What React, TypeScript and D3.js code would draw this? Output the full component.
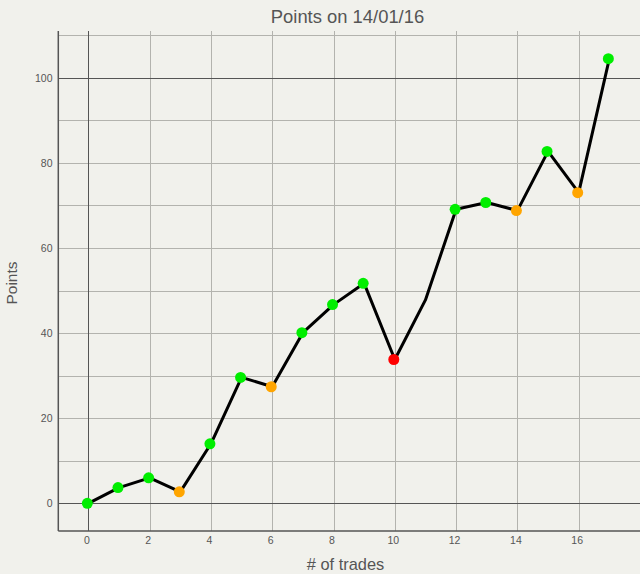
import React from "react";
import * as d3 from "d3";

const trades = [0, 1, 2, 3, 4, 5, 6, 7, 8, 9, 10, 11, 12, 13, 14, 15, 16, 17];
const points = [0, 3.7, 6.0, 2.7, 14.0, 29.6, 27.4, 40.1, 46.7, 51.7, 33.8, 47.8, 69.1, 70.7, 68.8, 82.7, 73.0, 104.5];
const markerKind = ["win", "win", "win", "flat", "win", "win", "flat", "win", "win", "win", "loss", "none", "win", "win", "flat", "win", "flat", "win"];
const kindColor: Record<string, string> = { win: "#00ee00", flat: "#ffa500", loss: "#ff0000" };
const xTicks = [0, 2, 4, 6, 8, 10, 12, 14, 16];
const yTicks = [0, 20, 40, 60, 80, 100];
const yGrid = [0, 10, 20, 30, 40, 50, 60, 70, 80, 90, 100, 110];
const xGrid = [0, 2, 4, 6, 8, 10, 12, 14, 16];
const title = "Points on 14/01/16";
const xTitle = "# of trades";
const yTitle = "Points";

const W = 640;
const H = 574;
const left = 58.3;
const right = 640;
const top = 31;
const bottom = 531;
const FONT = "'Liberation Sans', Arial, sans-serif";
const TXT = "#555";

export default function App() {
  const x = d3.scaleLinear().domain([-0.98, 18]).range([left, right]);
  const y = d3.scaleLinear().domain([-6.5, 111]).range([bottom, top]);
  const line = d3
    .line<number>()
    .x((_, i) => x(trades[i]))
    .y((d) => y(d));
  const dark = (v: number) => v === 0 || v === 100;

  return (
    <svg width={W} height={H} style={{ position: "absolute", left: 0, top: 0 }} fontFamily={FONT}>
      <rect x={0} y={0} width={W} height={H} fill="#f1f1ec" />
      {yGrid.filter((v) => !dark(v)).map((v) => (
        <line key={"yg" + v} x1={left} x2={right} y1={Math.round(y(v)) + 0.5} y2={Math.round(y(v)) + 0.5} stroke="#b3b3ae" strokeWidth={1} />
      ))}
      {xGrid.filter((v) => v !== 0).map((v) => (
        <line key={"xg" + v} x1={Math.round(x(v)) + 0.5} x2={Math.round(x(v)) + 0.5} y1={top} y2={bottom} stroke="#b3b3ae" strokeWidth={1} />
      ))}
      {yGrid.filter(dark).map((v) => (
        <line key={"yd" + v} x1={left} x2={right} y1={Math.round(y(v)) + 0.5} y2={Math.round(y(v)) + 0.5} stroke="#555" strokeWidth={1} />
      ))}
      <line x1={Math.round(x(0)) + 0.5} x2={Math.round(x(0)) + 0.5} y1={top} y2={bottom} stroke="#555" strokeWidth={1} />
      <line x1={left} x2={left} y1={top} y2={bottom} stroke="#555" strokeWidth={1.5} />
      <line x1={left} x2={right} y1={bottom} y2={bottom} stroke="#555" strokeWidth={1.5} />

      <path d={line(points) || ""} fill="none" stroke="#000" strokeWidth={3} strokeLinejoin="round" />
      {points.map((v, i) =>
        markerKind[i] === "none" ? null : (
          <circle key={"p" + i} cx={x(trades[i]) - 1} cy={y(v)} r={5.5} fill={kindColor[markerKind[i]]} />
        )
      )}

      {xTicks.map((v) => (
        <text key={"xt" + v} x={x(v) - 1.5} y={543.5} textAnchor="middle" fontSize={10.5} fill={TXT}>
          {v}
        </text>
      ))}
      {yTicks.map((v) => (
        <text key={"yt" + v} x={52.5} y={y(v) + 3.8} textAnchor="end" fontSize={10.5} fill={TXT}>
          {v}
        </text>
      ))}
      <text x={347.5} y={23} textAnchor="middle" fontSize={18.4} fill={TXT}>
        {title}
      </text>
      <text x={345.5} y={570} textAnchor="middle" fontSize={16.4} fill={TXT}>
        {xTitle}
      </text>
      <text transform={`translate(16.5,283) rotate(-90)`} textAnchor="middle" fontSize={15.5} fill={TXT}>
        {yTitle}
      </text>
    </svg>
  );
}
